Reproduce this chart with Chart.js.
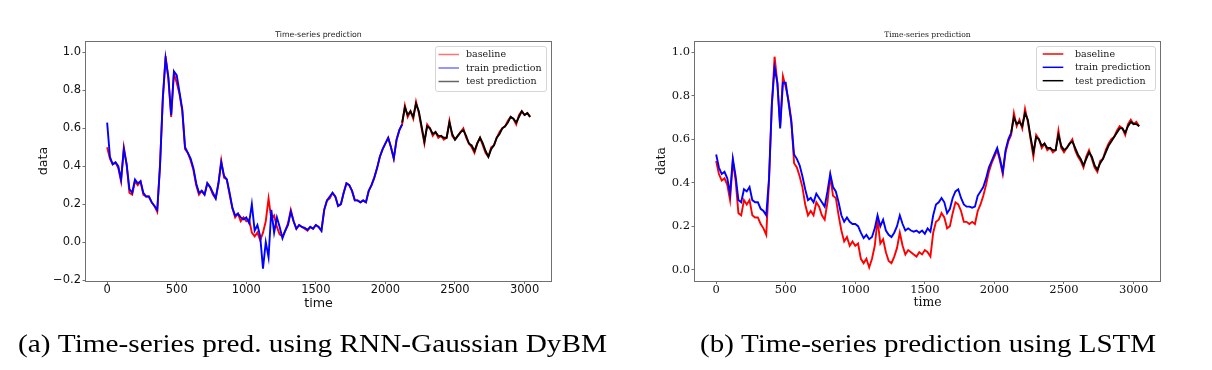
<!DOCTYPE html>
<html><head><meta charset="utf-8">
<script src="https://cdn.jsdelivr.net/npm/chart.js@4.4.0/dist/chart.umd.min.js"></script>
<style>
html,body{margin:0;padding:0;background:#fff;width:1212px;height:370px;overflow:hidden;}
canvas{position:absolute;}
</style></head><body>
<canvas id="ca" width="606" height="320" style="left:0;top:0"></canvas>
<canvas id="cb" width="606" height="320" style="left:606px;top:0"></canvas>
<canvas id="cap" width="1212" height="50" style="left:0;top:320px"></canvas>
<script>
// ---------------- data (sampled every 20 time steps) ----------------
const STEP = 20;
const TEST_START = 2120;
const baseline = [
0.50,0.44,0.41,0.42,0.39,0.32,0.50,0.41,0.26,0.25,
0.32,0.30,0.32,0.25,0.24,0.24,0.21,0.19,0.16,0.41,
0.75,0.98,0.86,0.66,0.89,0.84,0.78,0.69,0.49,0.47,
0.43,0.38,0.30,0.25,0.27,0.25,0.31,0.29,0.25,0.23,
0.31,0.43,0.34,0.33,0.25,0.18,0.13,0.15,0.11,0.13,
0.11,0.12,0.05,0.03,0.05,0.01,0.05,0.11,0.23,0.12,
0.14,0.08,0.04,0.03,0.06,0.10,0.17,0.11,0.07,0.09,
0.08,0.07,0.06,0.08,0.07,0.09,0.08,0.06,0.17,0.22,
0.23,0.26,0.24,0.19,0.20,0.26,0.31,0.30,0.27,0.22,
0.22,0.21,0.22,0.21,0.27,0.30,0.34,0.39,0.45,0.49,
0.52,0.55,0.50,0.44,0.54,0.59,0.62,0.72,0.66,0.69,
0.65,0.74,0.68,0.60,0.52,0.62,0.60,0.56,0.58,0.55,
0.56,0.54,0.55,0.64,0.56,0.54,0.56,0.58,0.60,0.55,
0.52,0.50,0.47,0.52,0.55,0.51,0.47,0.45,0.50,0.51,
0.55,0.58,0.60,0.61,0.64,0.66,0.65,0.62,0.67,0.69,
0.67,0.68,0.66];
// (a) RNN-Gaussian DyBM
const trainA = [
0.63,0.45,0.41,0.42,0.40,0.33,0.49,0.41,0.28,0.26,
0.33,0.31,0.32,0.26,0.24,0.24,0.21,0.19,0.17,0.40,
0.76,0.97,0.87,0.67,0.90,0.88,0.79,0.70,0.50,0.47,
0.44,0.39,0.31,0.26,0.27,0.25,0.31,0.29,0.26,0.23,
0.31,0.42,0.35,0.33,0.26,0.18,0.14,0.15,0.13,0.12,
0.13,0.10,0.20,0.06,0.09,0.03,-0.14,0.00,-0.08,0.17,
0.05,0.13,0.08,0.02,0.06,0.09,0.16,0.11,0.07,0.09,
0.08,0.075,0.065,0.08,0.07,0.09,0.08,0.06,0.17,0.22,
0.24,0.26,0.24,0.19,0.20,0.26,0.31,0.30,0.27,0.22,
0.22,0.21,0.22,0.21,0.27,0.30,0.34,0.39,0.45,0.49,
0.52,0.55,0.50,0.44,0.54,0.59,0.62];
const testA = [
0.63,0.71,0.67,0.69,0.66,0.73,0.69,0.61,0.53,0.61,
0.60,0.57,0.58,0.56,0.56,0.55,0.55,0.63,0.57,0.54,
0.56,0.58,0.59,0.56,0.52,0.51,0.48,0.52,0.55,0.52,
0.48,0.45,0.49,0.51,0.55,0.57,0.60,0.61,0.63,0.66,
0.65,0.63,0.66,0.69,0.67,0.68,0.66];
// (b) LSTM
const trainB = [
0.53,0.47,0.44,0.45,0.42,0.35,0.51,0.43,0.32,0.31,
0.37,0.36,0.38,0.32,0.31,0.31,0.28,0.27,0.25,0.42,
0.76,0.93,0.86,0.65,0.86,0.86,0.77,0.68,0.53,0.51,
0.48,0.43,0.37,0.32,0.33,0.31,0.35,0.33,0.31,0.29,
0.36,0.44,0.38,0.36,0.31,0.25,0.22,0.24,0.22,0.21,
0.21,0.20,0.17,0.145,0.16,0.14,0.15,0.19,0.25,0.20,
0.23,0.18,0.16,0.15,0.17,0.20,0.25,0.21,0.18,0.19,
0.18,0.175,0.18,0.17,0.18,0.165,0.19,0.175,0.25,0.30,
0.31,0.33,0.31,0.26,0.28,0.33,0.36,0.37,0.33,0.30,
0.29,0.29,0.285,0.29,0.34,0.36,0.38,0.42,0.47,0.50,
0.53,0.56,0.51,0.45,0.55,0.60,0.63];
const testB = [
0.63,0.70,0.67,0.68,0.66,0.72,0.69,0.61,0.54,0.61,
0.60,0.57,0.58,0.56,0.56,0.55,0.55,0.62,0.57,0.55,
0.56,0.58,0.59,0.56,0.53,0.51,0.48,0.51,0.54,0.52,
0.48,0.46,0.49,0.51,0.54,0.57,0.59,0.61,0.63,0.65,
0.65,0.63,0.66,0.68,0.67,0.67,0.66];

const xTicks = [0,500,1000,1500,2000,2500,3000];
const yTicksA = [-0.2,0.0,0.2,0.4,0.6,0.8,1.0];
const yTickLabelsA = ['\u22120.2','0.0','0.2','0.4','0.6','0.8','1.0'];
const yTicksB = [0.0,0.2,0.4,0.6,0.8,1.0];
const yTickLabelsB = ['0.0','0.2','0.4','0.6','0.8','1.0'];
const seriesNames = ['baseline','train prediction','test prediction'];
const chartTitle = 'Time-series prediction';
const xLabel = 'time', yLabel = 'data';
const captions = ['(a) Time-series pred. using RNN-Gaussian DyBM','(b) Time-series prediction using LSTM'];

// ---------------- drawing ----------------
const toPts = (arr, start) => arr.map((v, i) => ({x: start + STEP * i, y: v}));

const deco = {
  id: 'deco',
  afterDraw(chart, args, o) {
    const {ctx, chartArea: a} = chart;
    ctx.save();
    ctx.strokeStyle = '#707070'; ctx.lineWidth = 1;
    const l = Math.round(a.left) - 0.5, t = Math.round(a.top) - 0.5;
    const r = Math.round(a.right) + 0.5, b = Math.round(a.bottom) + 0.5;
    ctx.strokeRect(l, t, r - l, b - t);
    ctx.fillStyle = '#222';
    ctx.textAlign = 'center'; ctx.textBaseline = 'middle';
    ctx.font = o.titleFont;
    ctx.fillText(chartTitle, (a.left + a.right) / 2, 35);
    ctx.fillStyle = '#111';
    ctx.font = o.labelFont;
    ctx.fillText(xLabel, (a.left + a.right) / 2, o.xLabelY);
    ctx.save();
    ctx.translate(o.yLabelX, (a.top + a.bottom) / 2);
    ctx.rotate(-Math.PI / 2);
    ctx.fillText(yLabel, 0, 0);
    ctx.restore();
    const L = o.legend;
    ctx.beginPath();
    if (ctx.roundRect) ctx.roundRect(L.left + 0.5, L.top + 0.5, L.right - L.left, L.bottom - L.top, 2.5);
    else ctx.rect(L.left + 0.5, L.top + 0.5, L.right - L.left, L.bottom - L.top);
    ctx.fillStyle = 'rgba(255,255,255,0.85)'; ctx.fill();
    ctx.strokeStyle = '#d6d6d6'; ctx.lineWidth = 1; ctx.stroke();
    ctx.font = L.font; ctx.textAlign = 'left'; ctx.textBaseline = 'middle';
    seriesNames.forEach((name, i) => {
      const y = L.rowY[i];
      ctx.strokeStyle = L.colors[i]; ctx.lineWidth = 1.5;
      ctx.beginPath(); ctx.moveTo(L.x0, y); ctx.lineTo(L.x1, y); ctx.stroke();
      ctx.fillStyle = '#1a1a1a';
      ctx.fillText(name, L.tx, y + 0.5);
    });
    ctx.restore();
  }
};

function makeChart(id, c) {
  const tickFont = {family: c.family, size: 11.5, lineHeight: 1};
  return new Chart(document.getElementById(id), {
    type: 'line',
    data: {datasets: [
      {label: seriesNames[0], data: toPts(baseline, 0), borderColor: '#ff0000', order: 3},
      {label: seriesNames[1], data: toPts(c.train, 0), borderColor: '#0000ff', order: 2},
      {label: seriesNames[2], data: toPts(c.test, TEST_START), borderColor: '#000000', order: 1}
    ]},
    options: {
      responsive: false, animation: false, devicePixelRatio: 1,
      elements: {point: {radius: 0}, line: {borderWidth: 1.9, tension: 0, borderJoinStyle: 'miter'}},
      layout: {padding: {left: 0, top: 41.5, right: c.padRight, bottom: 0}},
      scales: {
        x: {
          type: 'linear', min: -152, max: 3190,
          afterBuildTicks: s => { s.ticks = xTicks.map(v => ({value: v})); },
          afterFit: s => { s.height = 39.5; },
          ticks: {font: tickFont, color: '#111', padding: 0, maxRotation: 0, autoSkip: false,
                  callback: (v, i) => String(xTicks[i])},
          grid: {display: true, drawOnChartArea: false, drawTicks: true, tickLength: 3.5, color: '#707070', lineWidth: 1},
          border: {display: false}
        },
        y: {
          type: 'linear', min: c.ymin, max: c.ymax,
          afterBuildTicks: s => { s.ticks = c.yTicks.map(v => ({value: v})); },
          afterFit: s => { s.width = c.axisLeft; },
          ticks: {font: tickFont, color: '#111', padding: 1.5, autoSkip: false,
                  callback: (v, i) => c.yLabels[i]},
          grid: {display: true, drawOnChartArea: false, drawTicks: true, tickLength: 3.5, color: '#707070', lineWidth: 1},
          border: {display: false}
        }
      },
      plugins: {
        legend: {display: false}, tooltip: {enabled: false}, title: {display: false},
        deco: c.deco
      }
    },
    plugins: [deco]
  });
}

makeChart('ca', {
  family: '"DejaVu Sans"', train: trainA, test: testA,
  ymin: -0.2025, ymax: 1.0575, yTicks: yTicksA, yLabels: yTickLabelsA,
  axisLeft: 86, padRight: 55,
  deco: {
    titleFont: '7.8px "DejaVu Sans"', labelFont: '12.7px "DejaVu Sans"',
    xLabelY: 304, yLabelX: 44,
    legend: {left: 435, top: 46, right: 546, bottom: 91, rowY: [54.5, 68, 81.5],
             x0: 438.5, x1: 459, tx: 466, font: '9.5px "DejaVu Serif"',
             colors: ['rgba(255,0,0,0.55)', 'rgba(0,0,255,0.55)', 'rgba(0,0,0,0.6)']}
  }
});

makeChart('cb', {
  family: '"DejaVu Serif"', train: trainB, test: testB,
  ymin: -0.05, ymax: 1.05, yTicks: yTicksB, yLabels: yTickLabelsB,
  axisLeft: 89, padRight: 52,
  deco: {
    titleFont: '7.6px "DejaVu Serif"', labelFont: '12.4px "DejaVu Serif"',
    xLabelY: 303, yLabelX: 56,
    legend: {left: 430, top: 46, right: 549, bottom: 90, rowY: [54, 67.3, 80.7],
             x0: 436.7, x1: 457.3, tx: 469, font: '9.5px "DejaVu Serif"',
             colors: ['#ff0000', '#0000ff', '#000000']}
  }
});

(function () {
  const cv = document.getElementById('cap');
  const ctx = cv.getContext('2d');
  ctx.fillStyle = '#000';
  ctx.font = '25px "Liberation Serif"';
  ctx.textBaseline = 'alphabetic';
  const spans = [[18, 607], [700, 1156]];
  captions.forEach((txt, i) => {
    const w = ctx.measureText(txt).width;
    const target = spans[i][1] - spans[i][0];
    ctx.save();
    ctx.translate(spans[i][0], 32);
    ctx.scale(target / w, 1);
    ctx.fillText(txt, 0, 0);
    ctx.restore();
  });
})();
</script>
</body></html>
